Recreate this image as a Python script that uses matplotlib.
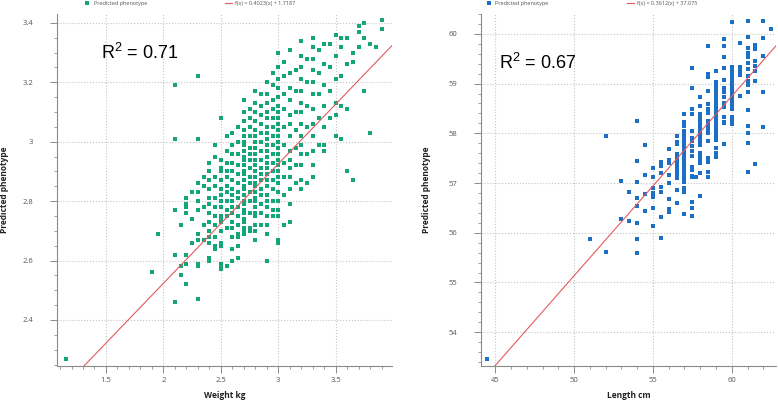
import numpy as np
import matplotlib
matplotlib.use('Agg')
import matplotlib.pyplot as plt
import matplotlib.ticker as ticker

plt.rcParams['font.family'] = ['Open Sans', 'DejaVu Sans']
plt.rcParams['mathtext.fontset'] = 'custom'
plt.rcParams['mathtext.rm'] = 'Liberation Sans'

# weight panel: measured weight (kg) columns and the predicted values in each
weight_x = [1.15, 1.9, 1.95, 2.1, 2.15, 2.2, 2.25, 2.3, 2.35, 2.4, 2.45, 2.5, 2.55, 2.6,
            2.65, 2.7, 2.75, 2.8, 2.85, 2.9, 2.95, 3.0, 3.05, 3.1, 3.15, 3.2, 3.25, 3.3,
            3.35, 3.4, 3.45, 3.5, 3.55, 3.6, 3.65, 3.7, 3.75, 3.8, 3.85, 3.9]
weight_pred = [
    [2.27],
    [2.56],
    [2.69],
    [2.46, 2.62, 2.77, 3.01, 3.19],
    [2.55, 2.58, 2.72],
    [2.52, 2.59, 2.62, 2.76, 2.78, 2.79, 2.81],
    [2.66, 2.74, 2.83],
    [2.47, 2.58, 2.59, 2.67, 2.69, 2.77, 2.80, 2.83, 2.86, 3.01, 3.22],
    [2.67, 2.72, 2.78, 2.85, 2.88],
    [2.60, 2.61, 2.66, 2.68, 2.70, 2.73, 2.76, 2.79, 2.81, 2.84, 2.87, 2.90, 2.93],
    [2.64, 2.65, 2.68, 2.72, 2.75, 2.78, 2.81, 2.85, 2.88, 2.95, 2.99],
    [2.57, 2.58, 2.59, 2.65, 2.66, 2.70, 2.73, 2.74, 2.75, 2.78, 2.80, 2.82, 2.84, 2.87,
     2.90, 2.91, 2.94, 3.08],
    [2.58, 2.71, 2.75, 2.77, 2.80, 2.83, 2.85, 2.88, 2.90, 2.93, 2.97, 3.02],
    [2.60, 2.64, 2.68, 2.71, 2.73, 2.76, 2.78, 2.80, 2.82, 2.84, 2.87, 2.90, 2.93, 2.96,
     2.99, 3.03],
    [2.61, 2.65, 2.68, 2.69, 2.72, 2.75, 2.78, 2.81, 2.83, 2.86, 2.89, 2.92, 2.96, 3.00, 3.05],
    [2.69, 2.70, 2.71, 2.73, 2.74, 2.76, 2.77, 2.79, 2.80, 2.82, 2.84, 2.85, 2.87, 2.89,
     2.90, 2.92, 2.94, 2.95, 2.97, 2.99, 3.00, 3.02, 3.04, 3.07, 3.10, 3.14],
    [2.70, 2.71, 2.76, 2.80, 2.83, 2.86, 2.88, 2.91, 2.94, 2.96, 2.98, 3.02, 3.05, 3.08, 3.11],
    [2.67, 2.70, 2.72, 2.75, 2.76, 2.78, 2.80, 2.81, 2.83, 2.85, 2.86, 2.88, 2.90, 2.92,
     2.94, 2.96, 2.98, 3.00, 3.02, 3.04, 3.07, 3.10, 3.13, 3.17],
    [2.72, 2.76, 2.79, 2.82, 2.84, 2.87, 2.89, 2.91, 2.94, 2.97, 3.00, 3.03, 3.06, 3.09,
     3.12, 3.16],
    [2.60, 2.69, 2.72, 2.75, 2.78, 2.80, 2.82, 2.85, 2.87, 2.89, 2.91, 2.93, 2.95, 2.97,
     2.99, 3.01, 3.03, 3.05, 3.08, 3.10, 3.13, 3.16, 3.20],
    [2.75, 2.77, 2.80, 2.84, 2.87, 2.90, 2.93, 2.96, 2.99, 3.02, 3.05, 3.08, 3.11, 3.14,
     3.19, 3.23],
    [2.66, 2.67, 2.75, 2.77, 2.80, 2.83, 2.86, 2.88, 2.90, 2.92, 2.94, 2.96, 2.98, 3.00,
     3.02, 3.04, 3.06, 3.08, 3.10, 3.12, 3.15, 3.18, 3.21, 3.25, 3.30],
    [2.72, 2.82, 2.88, 2.93, 2.99, 3.05, 3.11, 3.16, 3.22, 3.27],
    [2.73, 2.79, 2.84, 2.88, 2.91, 2.94, 2.97, 3.02, 3.06, 3.09, 3.14, 3.18, 3.23, 3.31],
    [2.86, 2.92, 2.98, 3.04, 3.10, 3.17, 3.24],
    [2.84, 2.87, 2.92, 2.96, 2.99, 3.02, 3.06, 3.10, 3.13, 3.17, 3.21, 3.25, 3.29, 3.34],
    [2.86, 2.96, 3.05, 3.12, 3.20, 3.28],
    [2.88, 2.92, 2.97, 3.02, 3.06, 3.11, 3.16, 3.20, 3.24, 3.28, 3.32, 3.35],
    [2.99, 3.08, 3.16, 3.23, 3.31],
    [2.97, 2.99, 3.05, 3.12, 3.19, 3.26, 3.33],
    [3.08, 3.17, 3.25, 3.33],
    [3.02, 3.09, 3.13, 3.21, 3.29, 3.36],
    [3.01, 3.12, 3.22, 3.32, 3.35],
    [2.90, 3.11, 3.26, 3.35],
    [2.87, 3.27, 3.30],
    [3.32, 3.37, 3.39],
    [3.17, 3.35, 3.40],
    [3.03, 3.33],
    [3.32],
    [3.38, 3.41],
]
weight_fit = (0.4023, 1.7187)
weight_r2 = '0.71'

# length panel: measured length (cm) columns and predicted values
length_x = [44.5, 51, 52, 53, 53.5, 54, 54.5, 55, 55.5, 56, 56.5, 57, 57.5, 57.75, 58,
            58.5, 59, 59.5, 60, 60.5, 61, 61.5, 62, 62.5]
length_pred = [
    [53.46],
    [55.87],
    [55.61, 57.95],
    [56.28, 57.04],
    [56.24, 56.82],
    [55.59, 55.88, 56.2, 56.54, 56.7, 57.02, 57.44, 58.25],
    [56.44, 56.78, 57.16, 57.77],
    [56.14, 56.5, 56.72, 56.8, 56.9, 57.12, 57.3],
    [55.9, 56.32, 56.82, 56.92, 57.2, 57.34, 57.42],
    [56.42, 56.48, 56.68, 57.0, 57.16, 57.4, 57.46, 57.69],
    [56.6, 56.86, 57.1, 57.18, 57.26, 57.34, 57.42, 57.5, 57.58, 57.79, 57.83, 57.95],
    [56.38, 56.82, 56.9, 57.02, 57.08, 57.14, 57.2, 57.26, 57.32, 57.38, 57.44, 57.5,
     57.56, 57.62, 57.68, 57.74, 57.8, 57.86, 57.92, 57.98, 58.05, 58.15, 58.23, 58.39],
    [56.34, 56.5, 56.62, 57.12, 57.14, 57.26, 57.32, 57.55, 57.65, 57.75, 57.85, 57.91,
     58.05, 58.39, 58.49, 58.91, 59.32],
    [57.12],
    [56.74, 57.2, 57.4, 57.46, 57.52, 57.6, 57.77, 57.83, 57.89, 57.95, 58.01, 58.07,
     58.13, 58.19, 58.25, 58.31, 58.39, 58.55, 58.73],
    [57.12, 57.22, 57.42, 57.5, 57.85, 58.0, 58.07, 58.15, 58.2, 58.25, 58.41, 58.49,
     58.59, 58.85, 59.14, 59.2, 59.76],
    [57.52, 57.6, 57.7, 57.87, 57.93, 57.99, 58.05, 58.11, 58.17, 58.23, 58.29, 58.35,
     58.41, 58.47, 58.53, 58.59, 58.65, 58.71, 58.77, 58.83, 58.89, 58.95, 59.03, 59.26],
    [57.79, 58.21, 58.23, 58.33, 58.53, 58.61, 58.73, 58.83, 58.91, 59.07, 59.32, 59.54,
     59.76, 59.9],
    [58.19, 58.23, 58.27, 58.33, 58.49, 58.55, 58.61, 58.67, 58.73, 58.79, 58.85, 58.91,
     58.97, 59.03, 59.09, 59.15, 59.21, 59.27, 59.34, 60.24],
    [58.75, 59.18, 59.26, 59.34, 59.82],
    [57.22, 57.8, 58.0, 58.15, 58.47, 58.83, 58.97, 59.05, 59.16, 59.3, 59.42, 59.54,
     59.62, 59.72, 59.94, 60.26],
    [57.38, 59.05, 59.26, 59.36, 59.46, 59.7, 59.78],
    [58.13, 58.83, 59.56, 59.92, 60.26],
    [60.1],
]
length_fit = (0.3612, 37.075)
length_r2 = '0.67'

fig = plt.figure(figsize=(7.78, 4.0), dpi=100)


def flatten(cols, vals):
    xs = np.concatenate([[c] * len(v) for c, v in zip(cols, vals)])
    ys = np.concatenate(vals)
    return xs, ys


def draw_panel(rect, cols, vals, fit, r2, color, xlim, ylim, xmajor, xminor,
               ymajor, yminor, xlabel, ylab_x, leg_x, r2_pos):
    ax = fig.add_axes(rect)
    xs, ys = flatten(cols, vals)
    ax.scatter(xs, ys, s=9, marker='s', color=color, linewidths=0,
               label='Predicted phenotype', zorder=3)
    lx = np.array(xlim)
    ax.plot(lx, fit[0] * lx + fit[1], color='#e35a5a', lw=0.8, zorder=4,
            label='f(x) = %s(x) + %s' % (fit[0], fit[1]))
    ax.set_xlim(*xlim)
    ax.set_ylim(*ylim)
    ax.xaxis.set_major_locator(ticker.MultipleLocator(xmajor))
    ax.xaxis.set_minor_locator(ticker.MultipleLocator(xminor))
    ax.yaxis.set_major_locator(ticker.MultipleLocator(ymajor))
    ax.yaxis.set_minor_locator(ticker.MultipleLocator(yminor))
    ax.xaxis.set_major_formatter(ticker.FormatStrFormatter('%g'))
    ax.yaxis.set_major_formatter(ticker.FormatStrFormatter('%g'))
    ax.grid(which='major', color='#c4c4c4', linestyle=':', linewidth=0.8)
    ax.set_axisbelow(True)
    for s in ['top', 'right']:
        ax.spines[s].set_visible(False)
    for s in ['left', 'bottom']:
        ax.spines[s].set_color('#8a8a8a')
        ax.spines[s].set_linewidth(0.8)
    ax.tick_params(which='major', length=5, width=0.7, color='#8a8a8a',
                   labelsize=5.5, labelcolor='#555555')
    ax.tick_params(which='minor', length=2.5, width=0.6, color='#8a8a8a')
    ax.tick_params(axis='y', which='major', pad=12)
    ax.tick_params(axis='x', which='major', pad=3)
    ax.set_xlabel(xlabel, fontsize=6, fontweight='bold', color='#222222')
    ax.xaxis.set_label_coords(0.5, -0.072)
    ax.set_ylabel('Predicted phenotype', fontsize=6, fontweight='bold', color='#222222')
    ax.yaxis.set_label_coords(ylab_x, 0.5)
    ax.legend(loc='center left', bbox_to_anchor=(leg_x, 1.031), ncol=2, frameon=False,
              fontsize=4, labelcolor='#555555', borderpad=0, borderaxespad=0,
              handlelength=1.3, handletextpad=0.5, columnspacing=14, markerscale=0.8)
    ax.text(r2_pos[0], r2_pos[1], r'R$^\mathregular{2}$ = ' + r2, transform=ax.transAxes,
            fontsize=13, family='Liberation Sans', color='black', va='center', ha='left')
    return ax


draw_panel([0.0733, 0.085, 0.4306, 0.88], weight_x, weight_pred, weight_fit, weight_r2,
           '#13a679', (1.074, 3.99), (2.245, 3.43), 0.5, 0.1, 0.2, 0.05, 'Weight kg',
           -0.142, 0.08, (0.13, 0.89))
draw_panel([0.6183, 0.085, 0.379, 0.88], length_x, length_pred, length_fit, length_r2,
           '#1c6fc6', (44.1, 62.8), (53.32, 60.4), 5, 1, 1, 0.2, 'Length cm',
           -0.17, 0.015, (0.06, 0.86))

fig.savefig('out.png', dpi=100)
